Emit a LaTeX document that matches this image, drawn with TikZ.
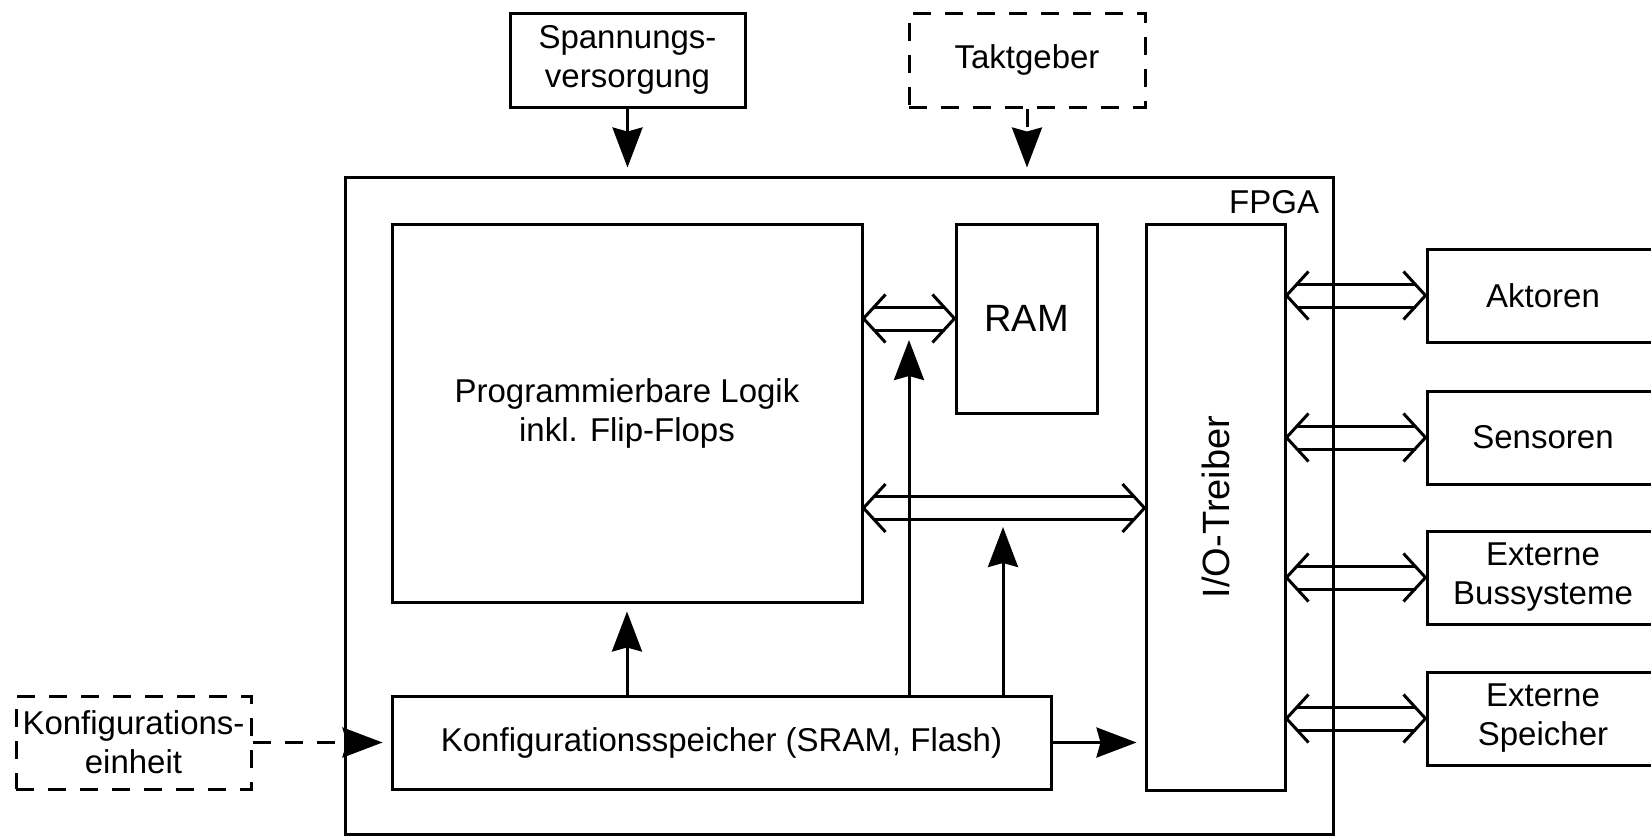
\documentclass[tikz,border=0pt]{standalone}
\usepackage{fontspec}
\setmainfont{Liberation Sans}
\usetikzlibrary{arrows.meta,calc}

% two parallel lines with open chevrons at both ends (bus connection)
\newcommand\busarrow[2]{%
  \draw[bus] ($(#1)+(10,-11.5)$) -- ($(#2)+(-10,-11.5)$)
             ($(#1)+(10,11.5)$) -- ($(#2)+(-10,11.5)$);
  \draw[bus] ($(#1)+(22,-24)$) -- (#1) -- ($(#1)+(22,24)$)
             ($(#2)+(-22,-24)$) -- (#2) -- ($(#2)+(-22,24)$);
}

\begin{document}
\begin{tikzpicture}[x=0.5pt,y=-0.5pt,
  line width=1.5pt,
  txt/.style={font=\fontsize{16.5}{19.5}\selectfont, align=center},
  box/.style={draw, line width=1.5pt, inner sep=0pt, txt},
  dbox/.style={box, dash pattern=on 9pt off 7pt},
  flow/.style={-{Stealth[length=20pt,width=15pt,inset=2pt]}, shorten >=4pt},
  dflow/.style={flow, dash pattern=on 9pt off 7pt},
  bus/.style={line width=1.5pt, line join=miter}
]
\useasboundingbox (0,0) rectangle (1651,836);
\clip (0,0) rectangle (1651,836);

% outer FPGA block
\node[box, minimum width=494pt, minimum height=328.5pt] (fpga) at (839,505.5) {};
\node[txt, inner sep=0pt, anchor=base east] (fpgalabel) at ($(fpga.north east)+(-14,38)$) {FPGA};

% external supplies
\node[box, minimum width=117.5pt, minimum height=47pt] (spann) at (627.5,60) {Spannungs-\\versorgung};
\node[dbox, minimum width=118pt, minimum height=47pt] (takt) at (1027,60) {Taktgeber};
\node[dbox, minimum width=117.5pt, minimum height=46.5pt] (einheit) at (133.5,742.5) {Konfigurations-\\einheit};

% internal blocks
\node[box, minimum width=235pt, minimum height=189pt] (logik) at (627,413) {Programmierbare Logik\\inkl. Flip-Flops};
\node[box, minimum width=70.5pt, minimum height=94.5pt, font=\fontsize{19}{22}\selectfont] (ram) at (1026.5,318.5) {RAM};
\node[box, minimum width=69.5pt, minimum height=283pt] (io) at (1215.5,507) {};
\node[txt, rotate=90, font=\fontsize{19}{22}\selectfont] (iolabel) at (io.center) {I/O-Treiber};
\node[box, minimum width=329.5pt, minimum height=46.5pt] (konf) at (721.5,742.5) {Konfigurationsspeicher (SRAM, Flash)};

% peripherals
\node[box, minimum width=116pt, minimum height=46.5pt] (akt) at (1543,295.5) {Aktoren};
\node[box, minimum width=116pt, minimum height=46.5pt] (sens) at (1543,437.5) {Sensoren};
\node[box, minimum width=116pt, minimum height=46.5pt] (buss) at (1543,577.5) {Externe\\Bussysteme};
\node[box, minimum width=116pt, minimum height=46.5pt] (spei) at (1543,718.5) {Externe\\Speicher};

% bus connections
\coordinate (b1a) at (logik.east |- ram.center);
\coordinate (b1b) at (ram.west);
\busarrow{b1a}{b1b}
\coordinate (busy) at (0,508);
\coordinate (b2a) at (logik.east |- busy);
\coordinate (b2b) at (io.west |- busy);
\busarrow{b2a}{b2b}
\coordinate (p1) at (io.east |- akt.west);
\busarrow{p1}{akt.west}
\coordinate (p2) at (io.east |- sens.west);
\busarrow{p2}{sens.west}
\coordinate (p3) at (io.east |- buss.west);
\busarrow{p3}{buss.west}
\coordinate (p4) at (io.east |- spei.west);
\busarrow{p4}{spei.west}

% configuration paths
\draw[flow] (konf.north -| logik.south) -- (logik.south);
\coordinate (t1) at (909,332);
\draw[flow] (konf.north -| t1) -- (t1);
\coordinate (t2) at (1003,519);
\draw[flow] (konf.north -| t2) -- (t2);
\draw[flow] (konf.east) -- (konf.east -| io.west);
\draw[dflow] (einheit.east) -- (konf.west);

% supply and clock
\draw[flow] (spann.south) -- (spann.south |- fpga.north);
\draw[dflow] (takt.south) -- (takt.south |- fpga.north);
\end{tikzpicture}
\end{document}
